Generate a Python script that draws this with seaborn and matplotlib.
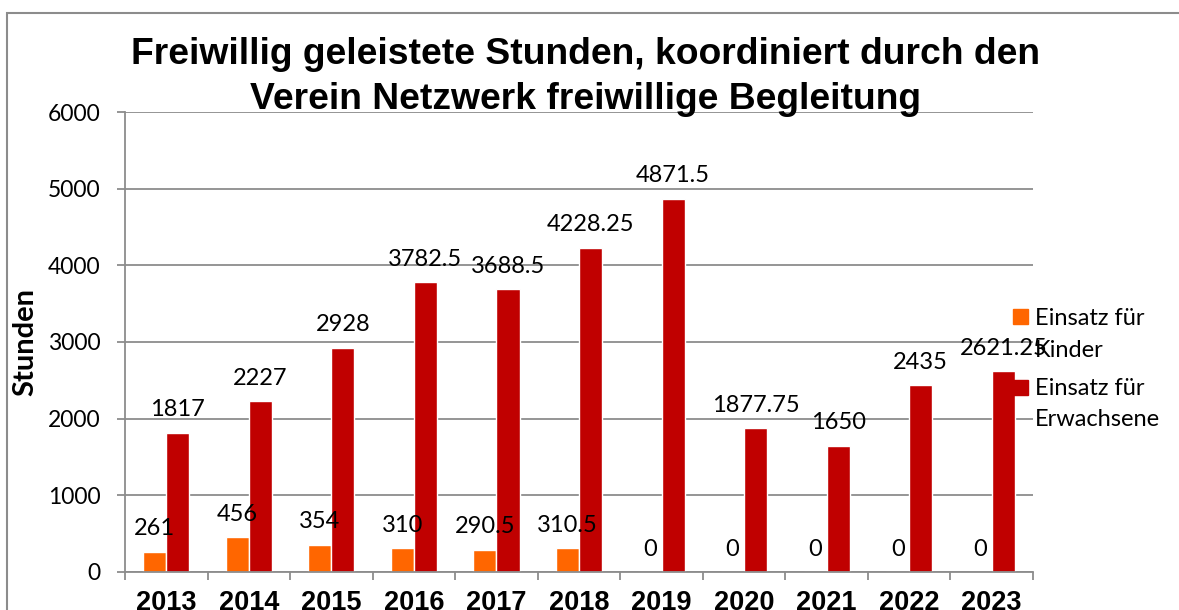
import numpy as np
import pandas as pd
import seaborn as sns
import matplotlib.pyplot as plt
from matplotlib.patches import Rectangle

sns.set_style('white')
plt.rcParams['font.family'] = ['Lato', 'DejaVu Sans']
plt.rcParams['text.color'] = 'black'
plt.rcParams['axes.labelcolor'] = 'black'
plt.rcParams['xtick.color'] = 'black'
plt.rcParams['ytick.color'] = 'black'

# Daten
jahre = ['2013', '2014', '2015', '2016', '2017', '2018', '2019', '2020', '2021', '2022', '2023']
kinder = [261, 456, 354, 310, 290.5, 310.5, 0, 0, 0, 0, 0]
erwachsene = [1817, 2227, 2928, 3782.5, 3688.5, 4228.25, 4871.5, 1877.75, 1650, 2435, 2621.25]
serien = ['Einsatz für Kinder', 'Einsatz für Erwachsene']
legende = ['Einsatz für\nKinder', 'Einsatz für\nErwachsene']
farben = ['#FF6600', '#C00000']
titel = 'Freiwillig geleistete Stunden, koordiniert durch den\nVerein Netzwerk freiwillige Begleitung'

df = pd.DataFrame({
    'Jahr': jahre * 2,
    'Stunden': kinder + erwachsene,
    'Serie': [serien[0]] * len(jahre) + [serien[1]] * len(jahre),
})

W, H = 1179, 610
fig = plt.figure(figsize=(W / 100, H / 100), dpi=100)
ax = fig.add_axes([125 / W, 38 / H, (1033 - 125) / W, (572 - 112) / H])

sns.barplot(data=df, x='Jahr', y='Stunden', hue='Serie', palette=farben,
            width=0.56, gap=0, saturation=1, legend=False, ax=ax)

grau = '#8c8c8c'
ax.set_ylim(0, 6000)
ax.set_xlim(-0.5, len(jahre) - 0.5)
ax.set_yticks(range(0, 6001, 1000))
ax.set_xticks(np.arange(-0.5, len(jahre), 1), minor=True)
ax.yaxis.grid(True, color=grau, lw=1.3)
ax.set_axisbelow(True)
for s in ['top', 'right']:
    ax.spines[s].set_visible(False)
for s in ['left', 'bottom']:
    ax.spines[s].set_color(grau)
    ax.spines[s].set_linewidth(1.3)

ax.tick_params(axis='y', left=True, direction='out', length=6, width=1.3, color=grau,
               pad=11.5, labelsize=16.5)
ax.tick_params(axis='x', which='major', bottom=True, length=0, pad=13)
ax.tick_params(axis='x', which='minor', bottom=True, direction='out', length=6,
               width=1.3, color=grau)
for t in ax.get_xticklabels():
    t.set_fontfamily('Liberation Sans')
    t.set_fontweight('bold')
    t.set_fontsize(19.5)

ax.set_xlabel('')
ax.set_ylabel('Stunden', fontsize=21, fontweight='bold')
ax.yaxis.set_label_coords(-0.095, 0.5)

# Datenbeschriftungen
for c, werte in zip(ax.containers, [kinder, erwachsene]):
    ax.bar_label(c, labels=[f'{v:g}' for v in werte], padding=9, fontsize=17)

fig.text(0.497, 1 - 77 / H, titel, ha='center', va='center', fontsize=26.8,
         fontweight='bold', family='Liberation Sans', linespacing=1.38)

# Legende
for i, (lab, col) in enumerate(zip(legende, farben)):
    y0 = [309, 380][i]
    fig.patches.append(Rectangle((1013 / W, 1 - (y0 + 15) / H), 15 / W, 15 / H,
                                 transform=fig.transFigure, color=col, zorder=5))
    fig.text(1035 / W, 1 - [334.5, 404][i] / H, lab, ha='left', va='center',
             fontsize=17, linespacing=1.6)

# Rahmen
fig.patches.append(Rectangle((7 / W, -0.1), 1.1, 1.1 - 13 / H, transform=fig.transFigure,
                             fill=False, ec=grau, lw=1.5))

fig.savefig('out.png', dpi=100)
